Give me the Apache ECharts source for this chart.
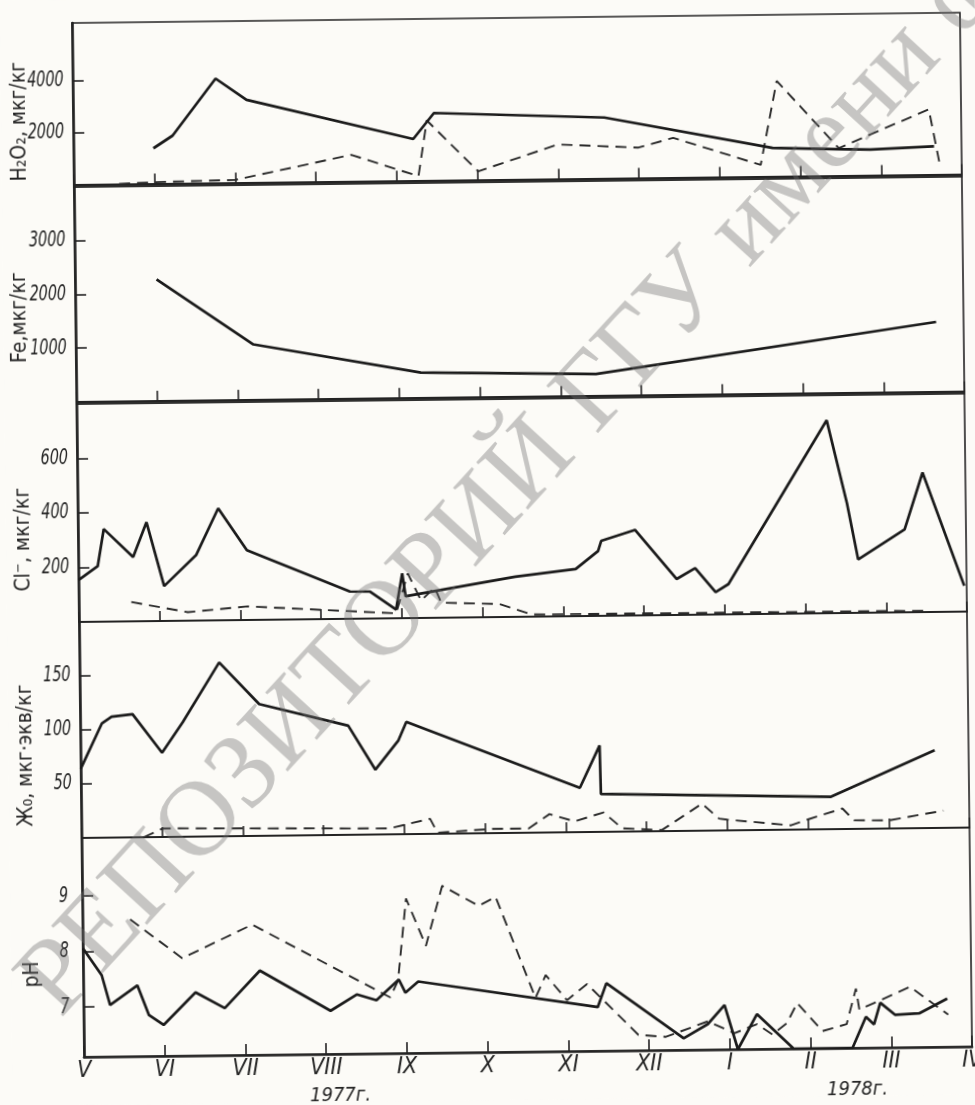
<!DOCTYPE html>
<html><head><meta charset="utf-8">
<script src="https://cdn.jsdelivr.net/npm/echarts@6.0.0/dist/echarts.min.js"></script>
<style>
html,body{margin:0;padding:0;background:#fcfbf7;overflow:hidden}
#c{width:975px;height:1105px;transform-origin:72px 23px;transform:rotate(-0.67deg)}
</style>
</head><body><div id="c"></div>
<script>
// x = month index counted from May 1977 (V = 0 ... IV 1978 = 11)
const monthLabels = ['V','VI','VII','VIII','IX','X','XI','XII','I','II','III','IV'];
const yearLabels = ['1977г.','1978г.'];
const axisNames = ['H₂O₂, мкг/кг','Fe,мкг/кг','Cl⁻, мкг/кг','Ж₀, мкг·экв/кг','pH'];

const h2o2Ticks = [2000, 4000];
const feTicks = [1000, 2000, 3000];
const clTicks = [200, 400, 600];
const hardTicks = [50, 100, 150];
const phTicks = [7, 8, 9];

const h2o2Solid = [[0.99,1350],[1.23,1830],[1.77,4000],[2.15,3170],[4.21,1590],[4.47,2580],[6.58,2330],[8.66,1085],[9.46,1010],[9.87,980],[10.66,1075]];
const h2o2Dashed = [[0.56,0],[1.0,50],[2.0,100],[3.44,1010],[4.27,160],[4.38,2300],[5.01,320],[6.0,1315],[7.0,1160],[7.43,1520],[8.51,440],[8.72,3660],[9.48,1050],[10.6,2500],[10.73,350]];

const feSolid = [[1.01,2260],[2.2,1030],[4.27,470],[6.44,405],[10.66,1300]];

const clSolid = [[0,154],[0.24,204],[0.32,340],[0.68,236],[0.85,363],[1.06,128],[1.46,240],[1.74,411],[2.09,256],[3.36,100],[3.61,99],[3.93,32],[4.01,164],[4.05,80],[5.41,147],[6.16,173],[6.44,238],[6.48,275],[6.9,314],[7.41,132],[7.64,171],[7.89,82],[8.05,111],[9.29,708],[9.53,402],[9.66,196],[10.24,304],[10.47,512],[10.97,95]];
const clDashed = [[0.65,71],[1.35,31],[2.09,50],[3.93,18],[4.08,164],[4.24,64],[4.41,111],[4.49,55],[5.21,48],[5.61,8],[10.49,5]];

const hardSolid = [[0,64],[0.27,106],[0.39,112],[0.65,114],[1.01,78],[1.27,106],[1.73,161],[2.22,122],[3.32,101],[3.65,60],[3.94,87],[4.04,104],[6.18,41],[6.43,80],[6.44,35],[9.29,30],[10.58,72]];
const hardDashed = [[0.77,0],[1.01,8],[3.82,5.5],[4.32,14],[4.41,1],[5.11,4],[5.54,4],[5.8,17],[6.11,10],[6.47,18],[6.7,3],[7.19,1],[7.69,25],[7.9,11],[8.0,10],[8.79,4],[9.01,9.5],[9.43,19],[9.57,8],[10.01,7.6],[10.68,16]];

const phSolid = [[0,8.06],[0.23,7.57],[0.33,7.03],[0.67,7.38],[0.81,6.84],[0.99,6.66],[1.39,7.24],[1.75,6.95],[2.19,7.62],[3.06,6.88],[3.39,7.17],[3.63,7.06],[3.91,7.43],[3.99,7.19],[4.15,7.39],[6.37,6.89],[6.48,7.32],[7.43,6.31],[7.73,6.56],[7.94,6.9],[8.1,6.1],[8.34,6.73],[8.79,6.1],[9.52,6.1],[9.69,6.66],[9.79,6.52],[9.87,6.91],[10.05,6.69],[10.35,6.71],[10.7,6.97]];
const phDashed = [[0.59,8.57],[1.23,7.86],[2.1,8.45],[3.8,7.11],[3.9,7.41],[4.01,8.89],[4.25,8.03],[4.46,9.11],[4.91,8.74],[5.12,8.9],[5.6,7.07],[5.73,7.48],[5.99,7.02],[6.24,7.31],[6.87,6.38],[7.21,6.34],[7.73,6.61],[8.06,6.39],[8.34,6.55],[8.53,6.36],[8.71,6.56],[8.84,6.92],[9.15,6.41],[9.45,6.53],[9.57,7.17],[9.61,6.79],[10.24,7.19],[10.71,6.68]];

const ink = '#232323';
const numFont = "'DejaVu Sans Condensed','Liberation Sans Narrow','Liberation Sans',sans-serif";
const nameFont = "'DejaVu Sans Condensed','Liberation Sans Narrow','Liberation Sans',sans-serif";

const panels = [
  {top:23,  height:164, min:-100, max:6200, ticks:h2o2Ticks},
  {top:187, height:217, min:-40,  max:4000, ticks:feTicks},
  {top:404, height:218, min:0,    max:800,  ticks:clTicks},
  {top:622, height:216, min:0,    max:200,  ticks:hardTicks},
  {top:838, height:219, min:6.1,  max:10.05, ticks:phTicks}
];

const grids = panels.map(p => ({left:72, width:888, top:p.top, height:p.height,
  show:true, borderColor:ink, borderWidth:1.6, backgroundColor:'transparent'}));

const xAxes = panels.map((p,i) => ({
  type:'value', gridIndex:i, min:0, max:11, interval:1,
  axisLine:{show:true, lineStyle:{color:ink, width:i===4?2.6:2.2}},
  axisTick:{show:true, inside:true, length:i===4?11:10, lineStyle:{color:ink, width:1.6}},
  splitLine:{show:false},
  axisLabel:{show:i===4, margin:3, color:ink, fontSize:23, fontStyle:'italic', fontFamily:numFont,
    formatter:v => monthLabels[Math.round(v)] || ''}
}));

const yAxes = panels.map((p,i) => ({
  type:'value', gridIndex:i, min:p.min, max:p.max,
  axisLine:{show:true, lineStyle:{color:ink, width:2.6}},
  axisTick:{show:true, inside:true, length:11, customValues:p.ticks, lineStyle:{color:ink, width:1.6}},
  splitLine:{show:false},
  axisLabel:{show:false}
}));

function solid(i, data){ return {type:'line', xAxisIndex:i, yAxisIndex:i, data, showSymbol:false, silent:true,
  lineStyle:{color:'#1b1b1b', width:2.7}, z:3}; }
function dashed(i, data){ return {type:'line', xAxisIndex:i, yAxisIndex:i, data, showSymbol:false, silent:true,
  lineStyle:{color:'#2a2a2a', width:1.9, type:[11,7]}, z:2}; }

const series = [
  solid(0, h2o2Solid), dashed(0, h2o2Dashed),
  solid(1, feSolid),
  solid(2, clSolid), dashed(2, clDashed),
  solid(3, hardSolid), dashed(3, hardDashed),
  solid(4, phSolid), dashed(4, phDashed)
];

const chart = echarts.init(document.getElementById('c'), null, {renderer:'canvas'});
chart.setOption({
  animation:false,
  backgroundColor:'#fcfbf7',
  grid:grids, xAxis:xAxes, yAxis:yAxes, series
});

// tick labels of the value axes, placed through the axes' own scales (condensed lettering as in the original)
const graphic = [];
panels.forEach((p,i) => {
  p.ticks.forEach(v => {
    const py = chart.convertToPixel({yAxisIndex:i}, v);
    graphic.push({type:'text', x:i===4?58:63, y:py, scaleX:0.76, z:10,
      style:{text:String(v), fill:ink, font:"italic 21px " + numFont, textAlign:'right', textVerticalAlign:'middle'}});
  });
});

const namePos = [[19,121],[17,317],[18,539],[18,755],[22,974]];
namePos.forEach((p,i) => graphic.push({
  type:'text', x:p[0], y:p[1], rotation:Math.PI/2, z:10,
  style:{text:axisNames[i], fill:ink, font:"21px " + nameFont, textAlign:'center', textVerticalAlign:'middle'}
}));
graphic.push({type:'text', x:328, y:1099, z:10,
  style:{text:yearLabels[0], fill:ink, font:"italic 20px " + numFont, textAlign:'center', textVerticalAlign:'middle'}});
graphic.push({type:'text', x:845, y:1099, z:10,
  style:{text:yearLabels[1], fill:ink, font:"italic 20px " + numFont, textAlign:'center', textVerticalAlign:'middle'}});
// library repository watermark printed across the scan
graphic.push({type:'text', x:508, y:489, rotation:46.8*Math.PI/180, z:20, silent:true,
  style:{text:'РЕПОЗИТОРИЙ ГГУ имени ф', fill:'rgba(110,110,110,0.38)', font:"107px 'Liberation Serif','DejaVu Serif',serif",
    textAlign:'center', textVerticalAlign:'middle'}});

chart.setOption({graphic});
</script>
</body></html>
